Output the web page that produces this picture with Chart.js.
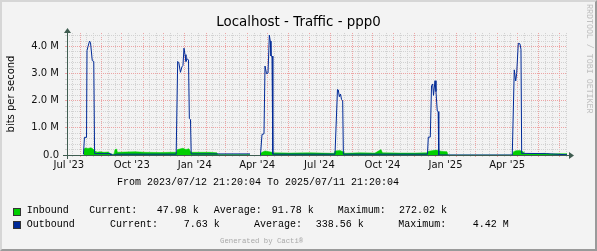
<!DOCTYPE html>
<html>
<head>
<meta charset="utf-8">
<script src="https://cdn.jsdelivr.net/npm/chart.js@4.4.0/dist/chart.umd.min.js"></script>
<style>
  body { margin: 0; background: #f3f3f3; }
  #wrap { position: relative; width: 597px; height: 251px; overflow: hidden; background: #f3f3f3; }
  #chart { position: absolute; left: 0; top: 0; }
  .frame { position: absolute; left: 0; top: 0; width: 597px; height: 251px; box-sizing: border-box;
           border-top: 2px solid #d6d6d6; border-left: 2px solid #d6d6d6;
           border-right: 2px solid #9a9a9a; border-bottom: 2px solid #9a9a9a; pointer-events: none; }
  .t { position: absolute; font-family: 'Liberation Mono', monospace; font-size: 10px; line-height: 12px;
       white-space: pre; color: #000; }
  .box { position: absolute; width: 6px; height: 6px; border: 1px solid #333; }
  .gen { position: absolute; font-family: 'Liberation Mono', monospace; font-size: 7.3px; line-height: 9px;
         white-space: pre; color: #a8a8a8; }
  .rrd { position: absolute; font-family: 'Liberation Mono', monospace; font-size: 8.3px; line-height: 10px;
         white-space: pre; color: #c0c0c0; transform-origin: 0 0; transform: rotate(90deg); }
</style>
</head>
<body>
<div id="wrap">
  <canvas id="chart" width="597" height="251"></canvas>
  <div id="footer"></div>
  <div class="frame"></div>
</div>
<script>
const START = Date.UTC(2023, 6, 12, 21, 20, 4);
const END = Date.UTC(2025, 6, 11, 21, 20, 4);
const DAY = 86400000;
const SPAN_DAYS = (END - START) / DAY;

const chartTitle = 'Localhost - Traffic - ppp0';
const yTitle = 'bits per second';
const rangeText = 'From 2023/07/12 21:20:04 To 2025/07/11 21:20:04';

// x = days since graph start, y = Mbit/s
const outDays = [
  24.0, 25.5, 28.5, 29.2, 30.7, 32.9, 34.3, 36.9, 39.1, 40.3,
  62.8, 64.2, 70.0, 72.0, 159.4,
  161.6, 163.3, 165.6, 167.8, 169.3, 170.8, 172.3, 173.7, 175.6, 177.4, 178.6, 180.3, 181.3,
  220.0, 267.2, 268.0,
  282.5, 284.7, 287.6, 289.1, 291.3, 293.5, 295.4, 296.8, 297.8, 299.3, 300.5,
  391.3, 394.9, 396.1, 397.6, 399.3, 400.8, 402.5, 403.5,
  526.3, 527.5, 530.4, 532.2, 533.9, 535.1, 537.3, 538.7, 540.6, 541.9, 542.8,
  650.1, 653.0, 655.1, 656.5, 658.9, 661.3, 662.8, 663.8, 700.0, 730.0
];
const outValues = [
  0.02, 0.65, 0.65, 3.85, 4.0, 4.2, 4.15, 3.48, 3.45, 0.05,
  0.05, 0.0, 0.0, 0.03, 0.03,
  3.45, 3.4, 3.05, 3.25, 3.3, 3.94, 3.7, 3.45, 3.55, 3.5, 1.35, 1.3, 0.04,
  0.04, 0.04, null,
  0.0, 0.76, 0.78, 3.28, 3.0, 3.02, 4.42, 4.2, 3.65, 3.65, 0.03,
  0.03, 2.42, 2.4, 2.15, 2.25, 2.05, 2.0, 0.03,
  0.03, 0.66, 0.66, 2.55, 2.62, 2.2, 2.74, 2.34, 1.62, 1.6, 0.0,
  0.0, 3.14, 2.73, 3.0, 4.12, 4.1, 3.9, 0.06, 0.05, 0.008
];
const inDays = [
  24.8, 26.3, 30.7, 35.0, 38.0, 40.9, 42.3, 48.2, 54.0, 59.9,
  62.8, 65.7, 68.6, 70.1, 72.3, 73.7, 84.7, 99.3, 113.9, 135.8,
  150.4, 159.7, 161.2, 164.8, 169.2, 173.6, 178.0, 181.0, 194.2, 208.8,
  219.0, 220.5, 267.2, 268.0,
  282.5, 284.7, 289.1, 293.5, 299.3, 300.8, 325.6, 354.8, 389.8, 391.3,
  398.6, 403.0, 404.4, 427.7, 449.6, 458.4, 460.6, 486.2, 508.1, 525.6,
  527.8, 532.9, 538.7, 546.0, 554.8, 556.3, 650.4, 651.9, 655.5, 661.3,
  665.8, 667.2, 683.3, 697.9, 705.2, 716.9, 730.0
];
const inValues = [
  0.2, 0.26, 0.24, 0.27, 0.22, 0.15, 0.1, 0.12, 0.1, 0.11,
  0.06, 0.02, 0.03, 0.2, 0.22, 0.1, 0.11, 0.12, 0.1, 0.09,
  0.1, 0.1, 0.2, 0.22, 0.25, 0.2, 0.23, 0.1, 0.1, 0.1,
  0.08, 0.02, 0.02, null,
  0.05, 0.1, 0.15, 0.13, 0.1, 0.08, 0.07, 0.08, 0.06, 0.15,
  0.17, 0.12, 0.06, 0.08, 0.07, 0.2, 0.08, 0.07, 0.07, 0.08,
  0.14, 0.16, 0.18, 0.14, 0.12, 0.0, 0.0, 0.12, 0.16, 0.17,
  0.12, 0.05, 0.05, 0.06, 0.04, 0.05, 0.048
];

const xLabelMonths = ['2023-07', '2023-10', '2024-01', '2024-04', '2024-07', '2024-10', '2025-01', '2025-04'];
const xLabels = ["Jul '23", "Oct '23", "Jan '24", "Apr '24", "Jul '24", "Oct '24", "Jan '25", "Apr '25"];
const yMajor = [0, 1, 2, 3, 4];
const yLabels = ['0.0', '1.0 M', '2.0 M', '3.0 M', '4.0 M'];
const yMax = 4.5;

const seriesNames = ['Inbound', 'Outbound'];
const statNames = ['Current:', 'Average:', 'Maximum:'];
const inboundStats = ['47.98 k', '91.78 k', '272.02 k'];
const outboundStats = ['7.63 k', '338.56 k', '4.42 M'];

const IN_COLOR = '#00CF00';
const OUT_COLOR = '#002A97';
const AXIS_COLOR = '#3f5c50';
const MINOR_GRID = '#d2d2d2';
const MAJOR_GRID = '#eda4a4';

const dayOf = (y, m, d) => (Date.UTC(y, m, d) - START) / DAY;

// vertical grid: month starts (red), 11th and 21st (grey), labels mid-month
const xGrid = [];
for (let y = 2023; y <= 2025; y++) {
    for (let m = 0; m < 12; m++) {
        [1, 11, 21].forEach((d, i) => {
            const v = dayOf(y, m, d);
            if (v > 0 && v < SPAN_DAYS) xGrid.push({ value: v, kind: i === 0 ? 'major' : 'minor' });
        });
    }
}
xLabelMonths.forEach((s, i) => {
    const [yy, mm] = s.split('-').map(Number);
    xGrid.push({ value: dayOf(yy, mm - 1, 1) + 14.5, kind: 'label', label: xLabels[i] });
});
xGrid.sort((a, b) => a.value - b.value);

const yGrid = [];
for (let i = 0; i <= 22; i++) yGrid.push(i / 5);

const toPoints = (xs, ys) => xs.map((x, i) => ({ x, y: ys[i] }));

const gridColor = (kind) => kind === 'major' ? MAJOR_GRID : (kind === 'minor' ? MINOR_GRID : 'rgba(0,0,0,0)');

const axisArrows = {
    id: 'axisArrows',
    afterDatasetsDraw(chart) {
        const { ctx, chartArea: a } = chart;
        const x0 = a.left + 0.5, y0 = a.bottom + 0.5;
        ctx.save();
        ctx.strokeStyle = AXIS_COLOR;
        ctx.fillStyle = AXIS_COLOR;
        ctx.lineWidth = 1;
        ctx.beginPath();
        ctx.moveTo(a.left - 4, y0); ctx.lineTo(a.right + 3, y0);
        ctx.moveTo(x0, a.bottom + 4); ctx.lineTo(x0, a.top - 1);
        ctx.stroke();
        ctx.beginPath();
        ctx.moveTo(a.right + 2, y0 - 3.5); ctx.lineTo(a.right + 7, y0); ctx.lineTo(a.right + 2, y0 + 3.5);
        ctx.closePath();
        ctx.fill();
        ctx.beginPath();
        ctx.moveTo(x0 - 3.5, a.top); ctx.lineTo(x0, a.top - 5); ctx.lineTo(x0 + 3.5, a.top);
        ctx.closePath();
        ctx.fill();
        ctx.restore();
    }
};

Chart.defaults.font.family = "'DejaVu Sans', sans-serif";
Chart.defaults.color = '#111';

new Chart(document.getElementById('chart'), {
    type: 'line',
    data: {
        datasets: [
            {
                label: seriesNames[1], data: toPoints(outDays, outValues), order: 0,
                borderColor: OUT_COLOR, borderWidth: 1, pointRadius: 0, tension: 0, fill: false
            },
            {
                label: seriesNames[0], data: toPoints(inDays, inValues), order: 1,
                borderColor: IN_COLOR, backgroundColor: IN_COLOR, borderWidth: 0.5,
                pointRadius: 0, tension: 0, fill: 'origin'
            }
        ]
    },
    options: {
        responsive: false,
        animation: false,
        layout: { padding: 0 },
        plugins: {
            legend: { display: false },
            tooltip: { enabled: false },
            title: {
                display: true, text: chartTitle, color: '#000',
                font: { size: 13.4, weight: 'normal' },
                padding: { top: 14.5, bottom: 2.4 }
            }
        },
        scales: {
            x: {
                type: 'linear', min: 0, max: SPAN_DAYS,
                afterFit: (s) => { s.height = 96; },
                afterBuildTicks: (s) => { s.ticks = xGrid.map(t => ({ value: t.value })); },
                grid: {
                    color: (c) => gridColor(xGrid[c.index] && xGrid[c.index].kind),
                    drawTicks: true, tickLength: 2
                },
                border: { display: false, dash: (c) => c.tick ? [1, 1] : [] },
                ticks: {
                    autoSkip: false, maxRotation: 0, minRotation: 0, padding: 2,
                    font: { size: 10 }, color: '#111',
                    callback: (v, i) => xGrid[i] && xGrid[i].kind === 'label' ? xGrid[i].label : ''
                }
            },
            y: {
                type: 'linear', min: 0, max: yMax,
                afterFit: (s) => { s.width = 67; },
                afterBuildTicks: (s) => { s.ticks = yGrid.map(v => ({ value: v })); },
                grid: {
                    color: (c) => {
                        const v = c.tick ? c.tick.value : 0;
                        if (v === 0) return 'rgba(0,0,0,0)';
                        return Number.isInteger(Math.round(v * 1000) / 1000) ? MAJOR_GRID : MINOR_GRID;
                    },
                    drawTicks: true, tickLength: 2
                },
                border: { display: false, dash: (c) => c.tick ? [1, 1] : [] },
                title: {
                    display: true, text: yTitle, color: '#000',
                    font: { size: 10 }, padding: { top: 5, bottom: 0 }
                },
                ticks: {
                    autoSkip: false, padding: 6, font: { size: 10 }, color: '#111',
                    callback: (v) => {
                        const k = yMajor.findIndex(m => Math.abs(m - v) < 1e-9);
                        return k >= 0 ? yLabels[k] : '';
                    }
                }
            },
            // empty right-hand strip so the plot ends where rrdtool puts it
            yRight: {
                type: 'linear', position: 'right', min: 0, max: yMax,
                afterFit: (s) => { s.width = 30; },
                grid: { display: false }, border: { display: false },
                ticks: { display: false }
            }
        }
    },
    plugins: [axisArrows]
});

// footer: range line, legend rows with stats, credits
const footer = document.getElementById('footer');
const addText = (cls, text, left, top) => {
    const el = document.createElement('div');
    el.className = cls;
    el.textContent = text;
    el.style.left = left + 'px';
    el.style.top = top + 'px';
    footer.appendChild(el);
    return el;
};
const addBox = (color, left, top) => {
    const el = document.createElement('div');
    el.className = 'box';
    el.style.background = color;
    el.style.left = left + 'px';
    el.style.top = top + 'px';
    footer.appendChild(el);
};

addText('t', rangeText, 117, 177.2);

const rowLayout = [
    { top: 205.2, cols: [26.7, 89.3, 156.7, 213.7, 271.7, 337.7, 399] },
    { top: 218.6, cols: [26.7, 110, 183.7, 254, 315.7, 398.3, 472.7] }
];
[[IN_COLOR, inboundStats], [OUT_COLOR, outboundStats]].forEach(([color, stats], r) => {
    const L = rowLayout[r];
    addBox(color, 13, L.top + 2.8);
    addText('t', seriesNames[r], L.cols[0], L.top);
    stats.forEach((s, i) => {
        addText('t', statNames[i], L.cols[1 + i * 2], L.top);
        addText('t', s, L.cols[2 + i * 2], L.top);
    });
});

addText('gen', 'Generated by Cacti®', 220, 236.7);
addText('rrd', 'RRDTOOL / TOBI OETIKER', 594, 4);
</script>
</body>
</html>
